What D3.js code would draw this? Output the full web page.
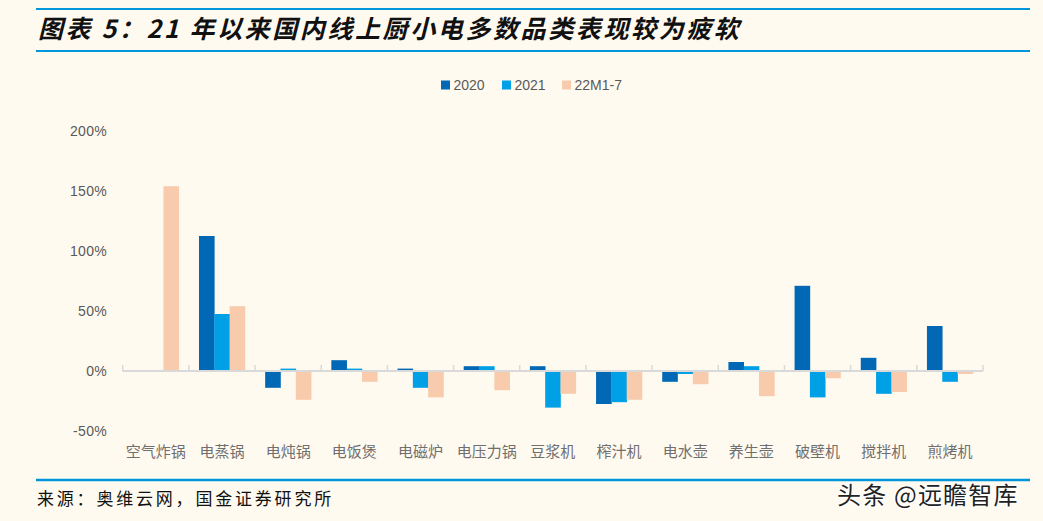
<!doctype html>
<html lang="zh">
<head>
<meta charset="utf-8" />
<title>图表 5</title>
<script src="https://d3js.org/d3.v7.min.js"></script>
<style>
  html, body { margin: 0; padding: 0; background: #fffaf0; }
  svg { display: block; }
</style>
</head>
<body>
<div id="chart"></div>
<script>
// data (percent)
var categories = ["空气炸锅", "电蒸锅", "电炖锅", "电饭煲", "电磁炉", "电压力锅", "豆浆机", "榨汁机", "电水壶", "养生壶", "破壁机", "搅拌机", "煎烤机"];
var seriesNames = ["2020", "2021", "22M1-7"];
var values2020 = [0, 112.5, -14, 9, 2, 4, 4, -27.5, -9, 7.5, 71, 11, 37.5];
var values2021 = [0, 47.5, 2, 2, -14, 4, -30.5, -26, -2.5, 4, -22, -19, -9];
var values22 = [154, 54, -24, -9, -22, -16, -19, -24, -11, -21, -6, -17.5, -2.5];
var yTicks = [-50, 0, 50, 100, 150, 200];
var colors = ["#0068b5", "#00a0e6", "#f7cbac"];

var W = 1043, H = 521;
var svg = d3.select("#chart").append("svg").attr("width", W).attr("height", H);
svg.append("rect").attr("width", W).attr("height", H).attr("fill", "#fffaf0");

// header / footer rules
var blue = "#0096dc";
[9, 51, 480].forEach(function (y) {
  svg.append("line").attr("x1", 36).attr("x2", 1030).attr("y1", y).attr("y2", y)
    .attr("stroke", blue).attr("stroke-width", y === 480 ? 2.5 : 2);
});

svg.append("text")
  .attr("x", 38).attr("y", 38)
  .attr("font-family", "'Noto Sans CJK SC', sans-serif")
  .attr("font-size", 25).attr("font-weight", "bold").attr("font-style", "italic")
  .attr("letter-spacing", 2.6)
  .attr("fill", "#111")
  .text("图表 5：21 年以来国内线上厨小电多数品类表现较为疲软");

svg.append("text")
  .attr("x", 37).attr("y", 505)
  .attr("font-family", "'Noto Sans CJK SC', serif")
  .attr("font-size", 17).attr("letter-spacing", 2.8).attr("fill", "#111")
  .text("来源：奥维云网，国金证券研究所");

// scales
var x0 = d3.scaleBand().domain(categories).range([122.7, 983]).padding(0);
var x1 = d3.scaleBand().domain(seriesNames).range([0, x0.bandwidth()]).paddingOuter(0.66).paddingInner(0);
var y = d3.scaleLinear().domain([-50, 200]).range([431, 131]);

// y labels
svg.append("g").selectAll("text").data(yTicks).join("text")
  .attr("x", 107).attr("y", function (d) { return y(d); })
  .attr("dy", "0.35em").attr("text-anchor", "end")
  .attr("font-family", "'Liberation Sans', Arial, sans-serif")
  .attr("font-size", 14).attr("letter-spacing", 0.3).attr("fill", "#595959")
  .text(function (d) { return d + "%"; });

// bars
var series = [values2020, values2021, values22];
var rows = [];
series.forEach(function (vals, si) {
  vals.forEach(function (v, ci) {
    if (v !== 0) rows.push({ cat: categories[ci], s: seriesNames[si], v: v, si: si });
  });
});
svg.append("g").selectAll("rect").data(rows).join("rect")
  .attr("x", function (d) { return x0(d.cat) + x1(d.s); })
  .attr("width", x1.bandwidth() + 0.3)
  .attr("y", function (d) { return d.v > 0 ? y(d.v) : y(0); })
  .attr("height", function (d) { return Math.abs(y(d.v) - y(0)); })
  .attr("fill", function (d) { return colors[d.si]; });

// zero axis with upward ticks
var axis = svg.append("g").attr("transform", "translate(0," + y(0) + ")");
axis.append("line").attr("x1", x0.range()[0]).attr("x2", x0.range()[1])
  .attr("stroke", "#d9d9d9").attr("stroke-width", 2);
var edges = categories.map(function (c) { return x0(c); }).concat([x0.range()[1]]);
axis.selectAll(".tk").data(edges).join("line").attr("class", "tk")
  .attr("x1", function (d) { return d; }).attr("x2", function (d) { return d; })
  .attr("y1", -6).attr("y2", 0).attr("stroke", "#d9d9d9").attr("stroke-width", 1.5);

// category labels
svg.append("g").selectAll("text").data(categories).join("text")
  .attr("x", function (d) { return x0(d) + x0.bandwidth() / 2; })
  .attr("y", 452).attr("dy", "0.35em").attr("text-anchor", "middle")
  .attr("font-family", "'Noto Sans CJK SC', sans-serif")
  .attr("font-size", 15).attr("fill", "#6f6f6f")
  .text(function (d) { return d; });

// legend
var legendX = [441, 502, 562];
var lg = svg.append("g").selectAll("g").data(seriesNames).join("g")
  .attr("transform", function (d, i) { return "translate(" + legendX[i] + ",80.5)"; });
lg.append("rect").attr("width", 9).attr("height", 9)
  .attr("fill", function (d, i) { return colors[i]; });
lg.append("text").attr("x", 12.5).attr("y", 4.5).attr("dy", "0.35em")
  .attr("font-family", "'Liberation Sans', Arial, sans-serif")
  .attr("font-size", 14).attr("fill", "#595959")
  .text(function (d) { return d; });

// watermark
svg.append("text")
  .attr("x", 837).attr("y", 504)
  .attr("font-family", "'Noto Sans CJK SC', sans-serif")
  .attr("font-size", 24).attr("letter-spacing", 1.2).attr("fill", "#222")
  .attr("stroke", "#ffffff").attr("stroke-width", 2.5).attr("paint-order", "stroke")
  .text("头条 @远瞻智库");
</script>
</body>
</html>
